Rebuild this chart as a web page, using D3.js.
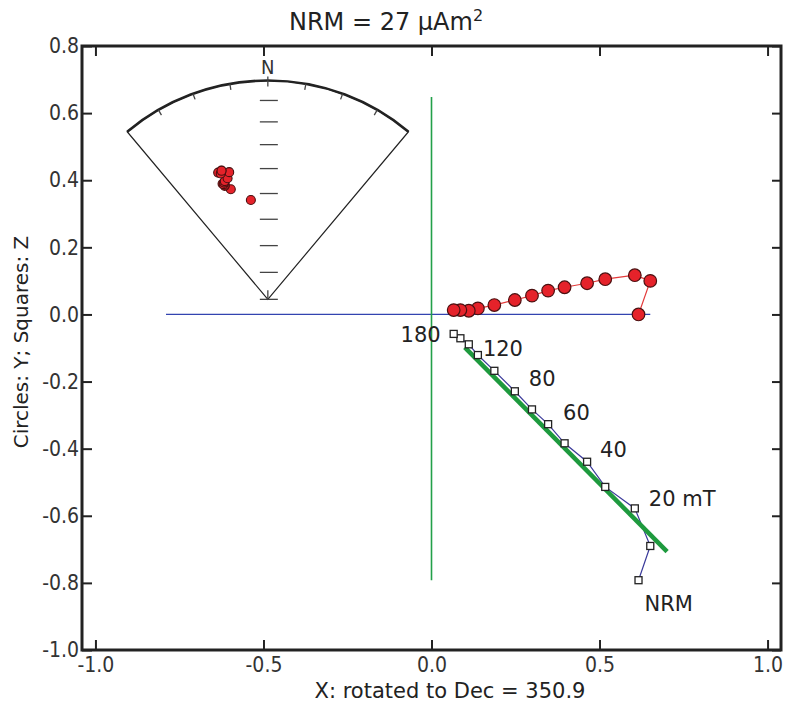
<!DOCTYPE html>
<html>
<head>
<meta charset="utf-8">
<script src="https://cdn.jsdelivr.net/npm/d3@7"></script>
<style>
  body { margin: 0; background: #fff; }
  svg { display: block; }
</style>
</head>
<body>
<svg></svg>
<script>
// demag steps (mT), NRM first
const steps = ["NRM", "10", "20", "30", "40", "50", "60", "70", "80", "100", "120", "140", "160", "180"];
const xVals = [0.616, 0.651, 0.605, 0.517, 0.463, 0.396, 0.347, 0.299, 0.248, 0.187, 0.138, 0.111, 0.086, 0.066];
const yVals = [0.000, 0.100, 0.117, 0.105, 0.093, 0.081, 0.071, 0.056, 0.043, 0.028, 0.018, 0.011, 0.013, 0.013];
const zVals = [-0.792, -0.690, -0.578, -0.514, -0.439, -0.384, -0.327, -0.283, -0.229, -0.168, -0.121, -0.089, -0.071, -0.058];

// directions for the equal-area inset
const decs = [350.3, 341.4, 339.2, 339.4, 338.6, 339.0, 339.5, 340.0, 341.6, 343.1, 340.2, 338.6, 339.5, 340.2];
const incs = [52.0, 45.9, 43.8, 43.4, 42.7, 43.0, 42.5, 42.0, 41.3, 39.1, 37.5, 37.8, 38.5, 37.6];

// labelled steps
const labelSteps = ["NRM", "20", "40", "60", "80", "120", "180"];

// PCA fit line (end points)
const fitX = [0.099, 0.701];
const fitZ = [-0.098, -0.707];

const xTicks = [-1.0, -0.5, 0.0, 0.5, 1.0];
const yTicks = [-1.0, -0.8, -0.6, -0.4, -0.2, 0.0, 0.2, 0.4, 0.6, 0.8];

const width = 785, height = 711;
const margin = { top: 46, right: 4, bottom: 61, left: 82 };
const plotW = width - margin.left - margin.right;
const plotH = height - margin.top - margin.bottom;

const comic = "'DejaVu Sans', sans-serif";
const narrow = "'DejaVu Sans Condensed', 'Liberation Sans Narrow', 'Liberation Sans', sans-serif";

const svg = d3.select("svg").attr("width", width).attr("height", height);
const g = svg.append("g").attr("transform", `translate(${margin.left},${margin.top})`);

const x = d3.scaleLinear().domain([-1.04, 1.04]).range([0, plotW]);
const y = d3.scaleLinear().domain([-1.0, 0.8]).range([plotH, 0]);

const fmt = d => d.toFixed(1);

// axes, ticks pointing inward
const bottomAx = g.append("g").attr("transform", `translate(0,${plotH})`)
  .call(d3.axisBottom(x).tickValues(xTicks).tickFormat(fmt).tickSize(-10).tickPadding(7));
const topAx = g.append("g")
  .call(d3.axisTop(x).tickValues(xTicks).tickFormat("").tickSize(-10));
const leftAx = g.append("g")
  .call(d3.axisLeft(y).tickValues(yTicks).tickFormat(fmt).tickSize(-10).tickPadding(3));
const rightAx = g.append("g").attr("transform", `translate(${plotW},0)`)
  .call(d3.axisRight(y).tickValues(yTicks).tickFormat("").tickSize(-9));

[bottomAx, topAx, leftAx, rightAx].forEach(a => {
  a.select(".domain").remove();
  a.selectAll(".tick line").attr("stroke", "#222").attr("stroke-width", 2);
  a.selectAll(".tick text").attr("fill", "#333").style("font-family", narrow).style("font-size", "21px");
});

g.append("rect")
  .attr("width", plotW).attr("height", plotH)
  .attr("fill", "none").attr("stroke", "#222").attr("stroke-width", 3);

// projection axes
g.append("line")
  .attr("x1", x(-0.79)).attr("x2", x(0.651)).attr("y1", y(0)).attr("y2", y(0))
  .attr("stroke", "#3344b0").attr("stroke-width", 1.2);
g.append("line")
  .attr("x1", x(0)).attr("x2", x(0)).attr("y1", y(0.648)).attr("y2", y(-0.792))
  .attr("stroke", "#23a04a").attr("stroke-width", 1.6);

const data = steps.map((s, i) => ({ step: s, x: xVals[i], y: yVals[i], z: zVals[i], dec: decs[i], inc: incs[i] }));

// horizontal projection (circles)
g.append("path").datum(data)
  .attr("fill", "none").attr("stroke", "#e33a3a").attr("stroke-width", 1.2)
  .attr("d", d3.line().x(d => x(d.x)).y(d => y(d.y)));
g.selectAll(".hc").data(data).enter().append("circle")
  .attr("class", "hc")
  .attr("cx", d => x(d.x)).attr("cy", d => y(d.y)).attr("r", 6.3)
  .attr("fill", "#e5222a").attr("stroke", "#4a1010").attr("stroke-width", 1.2);

// vertical projection (squares)
g.append("path").datum(data)
  .attr("fill", "none").attr("stroke", "#3a3a9a").attr("stroke-width", 1.2)
  .attr("d", d3.line().x(d => x(d.x)).y(d => y(d.z)));

g.append("line")
  .attr("x1", x(fitX[0])).attr("y1", y(fitZ[0]))
  .attr("x2", x(fitX[1])).attr("y2", y(fitZ[1]))
  .attr("stroke", "#1e9a3e").attr("stroke-width", 4.5);

const sq = 7;
g.selectAll(".vs").data(data).enter().append("rect")
  .attr("class", "vs")
  .attr("x", d => x(d.x) - sq / 2).attr("y", d => y(d.z) - sq / 2)
  .attr("width", sq).attr("height", sq)
  .attr("fill", "#fff").attr("stroke", "#222").attr("stroke-width", 1.3);

// step labels
const labelOffsets = {
  "NRM": [6, 31, "start", "NRM"],
  "20": [14, -2, "start", "20 mT"],
  "40": [13, -5, "start", "40"],
  "60": [15, -4, "start", "60"],
  "80": [14, -5, "start", "80"],
  "120": [5, 1, "start", "120"],
  "180": [-13, 8, "end", "180"]
};
g.selectAll(".lbl").data(data.filter(d => labelSteps.includes(d.step))).enter().append("text")
  .attr("class", "lbl")
  .attr("x", d => x(d.x) + labelOffsets[d.step][0])
  .attr("y", d => y(d.z) + labelOffsets[d.step][1])
  .attr("text-anchor", d => labelOffsets[d.step][2])
  .style("font-family", comic).style("font-size", "21px").attr("fill", "#222")
  .text(d => labelOffsets[d.step][3]);

// equal-area inset (sector around north)
const insetX = -0.487, insetY = 0.045, insetR = 0.652;
const cx = x(insetX), cy = y(insetY);
const R = y(insetY) - y(insetY + insetR);
const rad = d3.scaleSqrt().domain([0, 1]).range([0, R]);
const toRad = Math.PI / 180;
const half = 40 * toRad;

const inset = g.append("g").attr("transform", `translate(${cx},${cy})`);
inset.append("path")
  .attr("d", d3.arc().innerRadius(0).outerRadius(R).startAngle(-half).endAngle(half)())
  .attr("fill", "none").attr("stroke", "#222").attr("stroke-width", 1.2);
inset.append("path")
  .attr("d", d3.arc().innerRadius(R).outerRadius(R).startAngle(-half).endAngle(half)())
  .attr("fill", "none").attr("stroke", "#222").attr("stroke-width", 2.6);

// declination ticks on the arc
const arcTicks = [-30, -20, -10, 0, 10, 20, 30];
inset.selectAll(".at").data(arcTicks).enter().append("line")
  .attr("x1", d => R * Math.sin(d * toRad)).attr("y1", d => -R * Math.cos(d * toRad))
  .attr("x2", d => (R - 6) * Math.sin(d * toRad)).attr("y2", d => -(R - 6) * Math.cos(d * toRad))
  .attr("stroke", "#444").attr("stroke-width", 1.3);
inset.append("line").attr("x1", 0).attr("x2", 0).attr("y1", -R).attr("y2", -R - 4)
  .attr("stroke", "#444").attr("stroke-width", 1.3);
inset.append("line").attr("x1", 0).attr("x2", 0).attr("y1", 0).attr("y2", -9)
  .attr("stroke", "#444").attr("stroke-width", 1.3);

// inclination ticks along the N radius
const incTicks = [10, 20, 30, 40, 50, 60, 70, 80, 90];
inset.selectAll(".it").data(incTicks).enter().append("line")
  .attr("x1", -8).attr("x2", 10)
  .attr("y1", d => -rad(1 - Math.sin(d * toRad)))
  .attr("y2", d => -rad(1 - Math.sin(d * toRad)))
  .attr("stroke", "#444").attr("stroke-width", 1.3);

inset.append("text")
  .attr("x", 0).attr("y", -R - 7)
  .attr("text-anchor", "middle")
  .style("font-family", narrow).style("font-size", "20px").attr("fill", "#333")
  .text("N");

inset.selectAll(".dir").data(data).enter().append("circle")
  .attr("class", "dir")
  .attr("cx", d => rad(1 - Math.sin(d.inc * toRad)) * Math.sin(d.dec * toRad))
  .attr("cy", d => -rad(1 - Math.sin(d.inc * toRad)) * Math.cos(d.dec * toRad))
  .attr("r", 4.5)
  .attr("fill", "#e5222a").attr("stroke", "#4a1010").attr("stroke-width", 1.1);

// titles
const title = svg.append("text")
  .attr("x", 386).attr("y", 30)
  .attr("text-anchor", "middle")
  .style("font-family", comic).style("font-size", "24px").attr("fill", "#222");
title.append("tspan").text("NRM = 27 \u00b5Am");
title.append("tspan").attr("dy", -9).style("font-size", "16px").text("2");

svg.append("text")
  .attr("x", 450).attr("y", 698)
  .attr("text-anchor", "middle")
  .style("font-family", comic).style("font-size", "21px").attr("fill", "#222")
  .text("X: rotated to Dec = 350.9");

svg.append("text")
  .attr("transform", "translate(28,342) rotate(-90)")
  .attr("text-anchor", "middle")
  .style("font-family", comic).style("font-size", "20px").attr("fill", "#222")
  .text("Circles: Y; Squares: Z");
</script>
</body>
</html>
